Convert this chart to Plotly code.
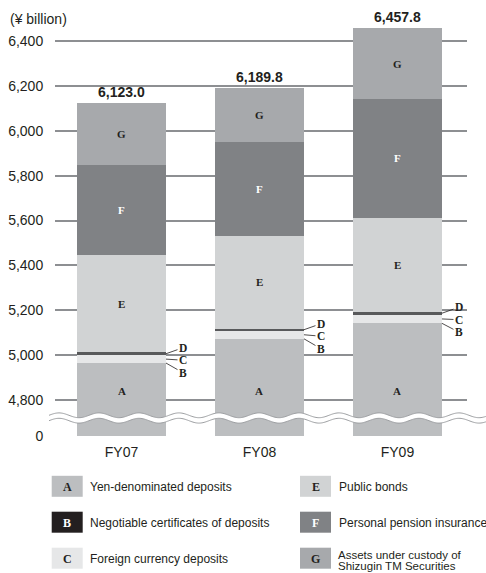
import numpy as np
import plotly.graph_objects as go

# ---- data (¥ billion) ----
categories = ["FY07", "FY08", "FY09"]
yen_deposits = [4965.0, 5073.0, 5142.0]        # A
ncd = [0.0, 0.0, 0.0]                           # B (too small to show at this scale)
foreign_deposits = [35.0, 36.0, 39.0]           # C
other_d = [13.0, 9.0, 12.0]                     # D
public_bonds = [432.0, 412.0, 420.0]            # E
pension_insurance = [402.0, 420.0, 528.0]       # F
custody = [276.0, 239.8, 316.8]                 # G

y_tick_vals = [4640, 4800, 5000, 5200, 5400, 5600, 5800, 6000, 6200, 6400]
y_tick_text = ["0", "4,800", "5,000", "5,200", "5,400", "5,600", "5,800", "6,000", "6,200", "6,400"]

series = [
    ("A", "Yen-denominated deposits", yen_deposits, "#bcbec0", "#231f20"),
    ("B", "Negotiable certificates of deposits", ncd, "#231f20", "#ffffff"),
    ("C", "Foreign currency deposits", foreign_deposits, "#e6e7e8", "#231f20"),
    ("D", "", other_d, "#58595b", "#ffffff"),
    ("E", "Public bonds", public_bonds, "#d1d3d4", "#231f20"),
    ("F", "Personal pension insurance*", pension_insurance, "#808285", "#ffffff"),
    ("G", "Assets under custody of", custody, "#a7a9ac", "#231f20"),
]

W, H = 486, 573
L, R, T, B = 55, 19, 14, 137
PW, PH = W - L - R, H - T - B
Y0, Y1 = 4640, 6520
BAR_W = 0.645
SANS = "Liberation Sans, Arial, sans-serif"
SERIF = "Liberation Serif, Times New Roman, serif"
INK = "#231f20"


def px_x(p):
    return (p - L) / PW


def px_y(p):
    return (T + PH - p) / PH


def val_to_px(v):
    return T + PH - (v - Y0) * PH / (Y1 - Y0)


fig = go.Figure()
for letter, name, vals, color, _ in series:
    fig.add_trace(go.Bar(
        x=categories, y=vals, name=name, width=BAR_W,
        marker=dict(color=color, line=dict(width=0)),
        showlegend=False, hoverinfo="x+y",
    ))

annotations = []
n = len(categories)
cum = np.zeros(n)
bounds = {}
for letter, name, vals, color, tcolor in series:
    v = np.array(vals)
    bounds[letter] = (cum.copy(), cum + v)
    cum = cum + v
totals = cum

# totals above each bar
for i, cat in enumerate(categories):
    annotations.append(dict(
        x=cat, y=totals[i], xref="x", yref="y", text=f"<b>{totals[i]:,.1f}</b>",
        showarrow=False, yanchor="bottom", yshift=1,
        font=dict(family=SANS, size=14, color=INK),
    ))

# segment letters inside bars
for letter, name, vals, color, tcolor in series:
    if letter in ("B", "C", "D"):
        continue
    lo, hi = bounds[letter]
    for i, cat in enumerate(categories):
        ymid = 4840 if letter == "A" else (lo[i] + hi[i]) / 2
        annotations.append(dict(
            x=cat, y=ymid, xref="x", yref="y", text=f"<b>{letter}</b>",
            showarrow=False, xanchor="center", yanchor="middle",
            font=dict(family=SERIF, size=11, color=tcolor),
        ))

# callouts for the thin segments: stacked labels D / C / B to the right of each bar
for i in range(n):
    d_lo, d_hi = bounds["D"]
    top_label_px = val_to_px((d_lo[i] + d_hi[i]) / 2) - 6
    for k, letter in enumerate(("D", "C", "B")):
        lo, hi = bounds[letter]
        ypt = (lo[i] + hi[i]) / 2
        label_px = top_label_px + 12.5 * k
        annotations.append(dict(
            x=i + BAR_W / 2, y=ypt, xref="x", yref="y",
            text=f"<b>{letter}</b>", showarrow=True, arrowhead=0,
            arrowwidth=0.8, arrowcolor=INK, ax=17, ay=label_px - val_to_px(ypt),
            xanchor="center", yanchor="middle",
            font=dict(family=SERIF, size=11.5, color=INK),
        ))

# unit label
annotations.append(dict(
    x=px_x(8), y=px_y(19), xref="paper", yref="paper", text="(¥ billion)",
    showarrow=False, xanchor="left", yanchor="middle",
    font=dict(family=SANS, size=14, color=INK),
))

shapes = []
# axis break: white wavy band with grey edges
xs = np.linspace(px_x(49), px_x(W + 5), 400)
period = 40 / PW
amp = 2.4 / PH
yc = px_y(418)
half = 2.7 / PH
wave = amp * np.sin(2 * np.pi * (xs - xs[0]) / period)
upper = yc + half + wave
lower = yc - half + wave


def path_from(xv, yv):
    return "M " + " L ".join(f"{a:.5f},{b:.5f}" for a, b in zip(xv, yv))


band = path_from(np.concatenate([xs, xs[::-1]]), np.concatenate([upper, lower[::-1]])) + " Z"
shapes.append(dict(type="path", xref="paper", yref="paper", path=band,
                   fillcolor="white", line=dict(width=0), layer="above"))
for edge in (upper, lower):
    shapes.append(dict(type="path", xref="paper", yref="paper", path=path_from(xs, edge),
                       line=dict(color="#9d9fa2", width=1), layer="above"))

# legend drawn as swatches with letters
legend_rows = [
    ("A", 0, 0), ("B", 0, 1), ("C", 0, 2),
    ("E", 1, 0), ("F", 1, 1), ("G", 1, 2),
]
row_y = [486.3, 522.2, 558.2]
col_x = [51.7, 300.0]
lookup = {s[0]: s for s in series}
for letter, col, row in legend_rows:
    _, name, _, color, tcolor = lookup[letter]
    x0, yc_px = col_x[col], row_y[row]
    shapes.append(dict(type="rect", xref="paper", yref="paper",
                       x0=px_x(x0), x1=px_x(x0 + 31), y0=px_y(yc_px + 10.5), y1=px_y(yc_px - 10.5),
                       fillcolor=color, line=dict(width=0)))
    annotations.append(dict(x=px_x(x0 + 15.5), y=px_y(yc_px + 0.5), xref="paper", yref="paper",
                            text=f"<b>{letter}</b>", showarrow=False,
                            xanchor="center", yanchor="middle",
                            font=dict(family=SERIF, size=12, color=tcolor)))
    if letter == "G":
        for txt, ty in ((name, yc_px - 3.4), ("Shizugin TM Securities", yc_px + 7.9)):
            annotations.append(dict(x=px_x(x0 + 36), y=px_y(ty), xref="paper", yref="paper",
                                    text=txt, showarrow=False, xanchor="left", yanchor="middle",
                                    font=dict(family=SANS, size=11.5, color=INK)))
    else:
        annotations.append(dict(x=px_x(x0 + 36.5), y=px_y(yc_px + 0.5), xref="paper", yref="paper",
                                text=name, showarrow=False, xanchor="left", yanchor="middle",
                                font=dict(family=SANS, size=12, color=INK)))

fig.update_layout(
    width=W, height=H, barmode="stack",
    margin=dict(l=L, r=R, t=T, b=B, autoexpand=False),
    paper_bgcolor="white", plot_bgcolor="white",
    annotations=annotations, shapes=shapes,
    xaxis=dict(type="category", range=[-0.482, 2.504], showgrid=False, showline=False,
               zeroline=False, ticks="outside", ticklen=3, tickcolor="rgba(0,0,0,0)",
               tickfont=dict(family=SANS, size=14, color=INK)),
    yaxis=dict(range=[Y0, Y1], tickvals=y_tick_vals, ticktext=y_tick_text,
               showgrid=True, gridcolor="#8d8f92", gridwidth=2, zeroline=False, showline=False,
               ticks="outside", ticklen=8, tickcolor="rgba(0,0,0,0)",
               tickfont=dict(family=SANS, size=14, color=INK)),
)

fig.write_html("out.html")
